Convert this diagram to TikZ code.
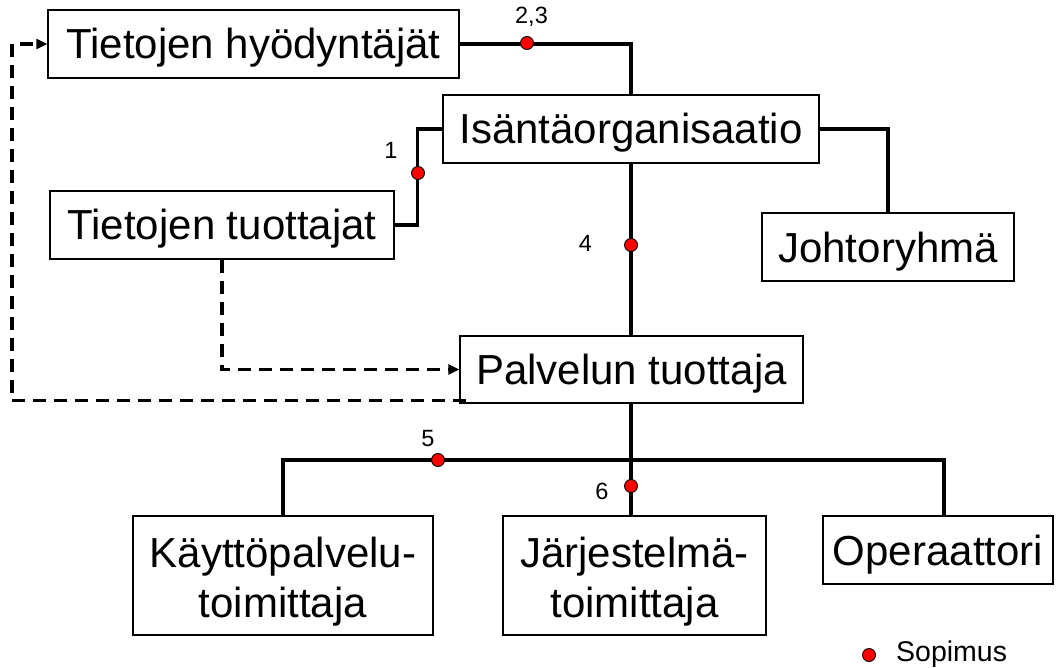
\documentclass[tikz,border=0pt]{standalone}
\usepackage{fontspec}
\setmainfont{Liberation Sans}
\usetikzlibrary{arrows.meta,calc}

\tikzset{
  orgbox/.style={draw, line width=1.3pt, rectangle, inner sep=0pt, align=center,
    font=\fontsize{42}{50}\selectfont},
  oneline/.style={text height=30pt, text depth=0pt},
  conn/.style={line width=3.4pt},
  dashline/.style={line width=3.6pt, dash pattern=on 13pt off 8pt},
  tip/.style={-{Triangle[length=11pt,width=10pt]}},
  dot/.style={circle, fill=red, draw=black, line width=0.9pt, minimum size=13pt, inner sep=0pt},
  num/.style={font=\fontsize{23.5}{27}\selectfont, inner sep=0pt, anchor=base},
}

\begin{document}
\begin{tikzpicture}[x=1pt, y=-1pt]
\useasboundingbox (0,0) rectangle (1057,668);

% organisation boxes
\node[orgbox, oneline, minimum width=411pt, minimum height=68pt] (hyod)   at (253.5,44)   {Tietojen hyödyntäjät};
\node[orgbox, oneline, minimum width=376pt, minimum height=68pt] (isanta) at (631,129)    {Isäntäorganisaatio};
\node[orgbox, oneline, minimum width=344pt, minimum height=68pt] (tuott)  at (222,225)    {Tietojen tuottajat};
\node[orgbox, oneline, minimum width=252pt, minimum height=68pt] (johto)  at (888,247)    {Johtoryhmä};
\node[orgbox, oneline, minimum width=343pt, minimum height=67pt] (palv)   at (631.5,369.5){Palvelun tuottaja};
\node[orgbox, minimum width=300pt, minimum height=119pt] (kaytto) at (283,575.5)
  {\rule{0pt}{42pt}Käyttöpalvelu-\\toimittaja};
\node[orgbox, minimum width=263pt, minimum height=119pt] (jarj)   at (634.5,575.5)
  {\rule{0pt}{42pt}Järjestelmä-\\toimittaja};
\node[orgbox, oneline, minimum width=230pt, minimum height=68pt] (oper)   at (938,550)    {Operaattori};

% helper coordinates for the trunk and the lower bus
\coordinate (spine) at (631,0);
\coordinate (bus)   at (631,460);
\coordinate (busR)  at (944,460);
\coordinate (fbx)   at (12,0);
\coordinate (fbStart) at ($(palv.south west)+(7,-3)$);

% solid contract lines
\draw[conn] (hyod.east) -| (isanta.north -| spine);
\draw[conn] (isanta.west) -- ++(-25,0) |- (tuott.east);
\draw[conn] (isanta.east) -| (johto.north);
\draw[conn] (isanta.south -| spine) -- (palv.north -| spine);
\draw[conn] (palv.south -| spine) -- (bus);
\draw[conn] (kaytto.north) |- (busR) -- (busR |- oper.north);
\draw[conn] (bus) -- (jarj.north -| spine);

% dashed information flows
\draw[dashline, tip] (tuott.south) |- (palv.west);
\draw[dashline, tip] (fbStart) -- (fbStart -| fbx) |- (hyod.west);

% contract markers
\node[dot] (c23) at (527,43)  {};
\node[dot] (c1)  at (418,173) {};
\node[dot] (c4)  at (631,245) {};
\node[dot] (c5)  at (438,460) {};
\node[dot] (c6)  at (631,486) {};

\node[num] (l23) at (531.5,24) {2,3};
\node[num] (l1)  at (391,159)  {1};
\node[num] (l4)  at (585.5,252){4};
\node[num] (l5)  at (428,446)  {5};
\node[num] (l6)  at (602,499)  {6};

% legend
\node[dot] (legdot) at (869,655) {};
\node[font=\fontsize{28.5}{32}\selectfont, inner sep=0pt, anchor=base west] (legtxt) at (896,661) {Sopimus};
\end{tikzpicture}
\end{document}
